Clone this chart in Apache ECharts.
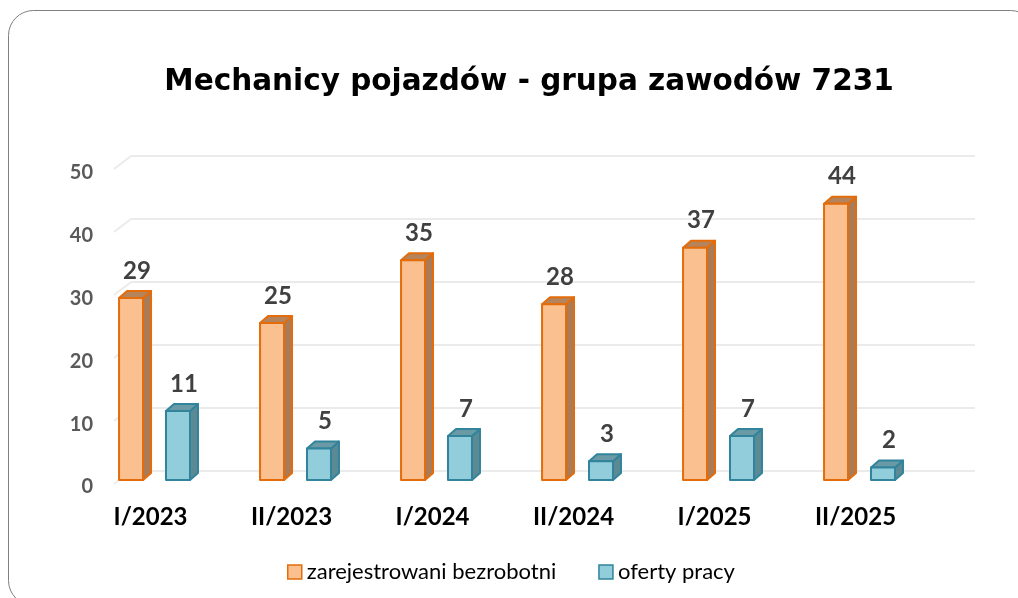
<!DOCTYPE html>
<html>
<head>
<meta charset="utf-8">
<script src="https://cdn.jsdelivr.net/npm/echarts@6/dist/echarts.min.js"></script>
<style>
html,body{margin:0;padding:0;background:#fff;}
#main{width:1018px;height:598px;}
</style>
</head>
<body>
<div id="main"></div>
<script>
// dane
const categories = ["I/2023", "II/2023", "I/2024", "II/2024", "I/2025", "II/2025"];
const registered = [29, 25, 35, 28, 37, 44];
const offers     = [11, 5, 7, 3, 7, 2];
const yTicks     = [0, 10, 20, 30, 40, 50];

const FONT = "Lato";

// kolumna 3D: przod, bok, gora
function barRenderer(shift, c){
    return function(params, api){
        const idx = api.value(0), val = api.value(1);
        const top = api.coord([idx, val]);
        const base = api.coord([idx, 0]);
        const band = api.size([1, 0])[0];
        const w = band * 0.17;
        const cx = top[0] + band * shift;
        const l = cx - w / 2, r = cx + w / 2;
        const dx = 8, dy = 7;
        const yt = top[1], yb = base[1];
        const stroke = {stroke: c.border, lineWidth: 2, lineJoin: "round"};
        return {
            type: "group",
            children: [
                {type: "polygon", shape: {points: [[r, yt], [r + dx, yt - dy], [r + dx, yb - dy], [r, yb]]},
                 style: Object.assign({fill: c.side}, stroke)},
                {type: "polygon", shape: {points: [[l, yt], [l + dx, yt - dy], [r + dx, yt - dy], [r, yt]]},
                 style: Object.assign({fill: c.top}, stroke)},
                {type: "rect", shape: {x: l, y: yt, width: w, height: yb - yt},
                 style: Object.assign({fill: c.front}, stroke)},
                {type: "text", style: {text: String(val), x: cx + 6, y: yt - 27, align: "center", verticalAlign: "middle",
                 fill: "#404040", font: "bold 24px " + FONT}}
            ]
        };
    };
}

const orange = {front: "#FAC090", side: "#A97B56", top: "#B5845C", border: "#E46C0A"};
const blue   = {front: "#92CDDC", side: "#5B8A94", top: "#6A9AA5", border: "#31849B"};

const myChart = echarts.init(document.getElementById("main"));
myChart.setOption({
    backgroundColor: "#fff",
    animation: false,
    title: {
        text: "Mechanicy pojazdów - grupa zawodów 7231",
        left: 524,
        top: 62,
        textAlign: "center",
        textStyle: {fontFamily: "DejaVu Sans", fontWeight: "bold", fontSize: 29.5, color: "#000"}
    },
    graphic: [{
        type: "rect",
        shape: {x: 8.5, y: 10.5, width: 1027, height: 595, r: 25},
        style: {fill: "none", stroke: "#7f7f7f", lineWidth: 1},
        silent: true
    }],
    legend: {
        left: 287,
        top: 561,
        padding: 0,
        itemWidth: 14,
        itemHeight: 14,
        itemGap: 42,
        textStyle: {fontFamily: FONT, fontSize: 22, color: "#000"},
        data: [
            {name: "zarejestrowani bezrobotni", icon: "rect", itemStyle: {color: orange.front, borderColor: orange.border, borderWidth: 1.5}},
            {name: "oferty pracy", icon: "rect", itemStyle: {color: blue.front, borderColor: blue.border, borderWidth: 1.5}}
        ]
    },
    grid: [
        // przednia plaszczyzna
        {left: 80, width: 846, top: 166, bottom: 118},
        // tylna sciana (linie siatki)
        {left: 131, width: 844, top: 156, height: 315}
    ],
    xAxis: [
        {
            type: "category",
            gridIndex: 0,
            data: categories,
            axisLine: {show: false},
            axisTick: {show: false},
            axisLabel: {margin: 25, color: "#000", fontFamily: FONT, fontWeight: "bold", fontSize: 24}
        },
        {type: "value", gridIndex: 1, min: 0, max: 1, show: false}
    ],
    yAxis: [
        {
            type: "value",
            gridIndex: 0,
            min: 0, max: 50, interval: 10,
            offset: -21,
            splitLine: {show: false},
            axisLine: {show: false},
            axisTick: {show: false},
            axisLabel: {margin: 8, verticalAlign: "top", lineHeight: 14, color: "#595959", fontFamily: FONT, fontWeight: "bold", fontSize: 20}
        },
        {
            type: "value",
            gridIndex: 1,
            min: 0, max: 50, interval: 10,
            axisLabel: {show: false},
            axisLine: {show: false},
            axisTick: {show: false},
            splitLine: {lineStyle: {color: "#EBEBEB", width: 2}}
        }
    ],
    series: [
        {
            name: "siatka",
            type: "custom",
            xAxisIndex: 1, yAxisIndex: 1,
            z: 1,
            silent: true,
            data: yTicks.map(v => [0, v]),
            renderItem: function(params, api){
                const p = api.coord([0, api.value(1)]);
                return {type: "line", shape: {x1: p[0] - 17, y1: p[1] + 13, x2: p[0], y2: p[1]},
                        style: {stroke: "#EBEBEB", lineWidth: 2}};
            }
        },
        {
            name: "zarejestrowani bezrobotni",
            type: "custom",
            z: 3,
            itemStyle: {color: orange.front, borderColor: orange.border},
            data: registered.map((v, i) => [i, v]),
            encode: {x: 0, y: 1},
            renderItem: barRenderer(-0.138, orange)
        },
        {
            name: "oferty pracy",
            type: "custom",
            z: 3,
            itemStyle: {color: blue.front, borderColor: blue.border},
            data: offers.map((v, i) => [i, v]),
            encode: {x: 0, y: 1},
            renderItem: barRenderer(0.195, blue)
        }
    ]
});
</script>
</body>
</html>
